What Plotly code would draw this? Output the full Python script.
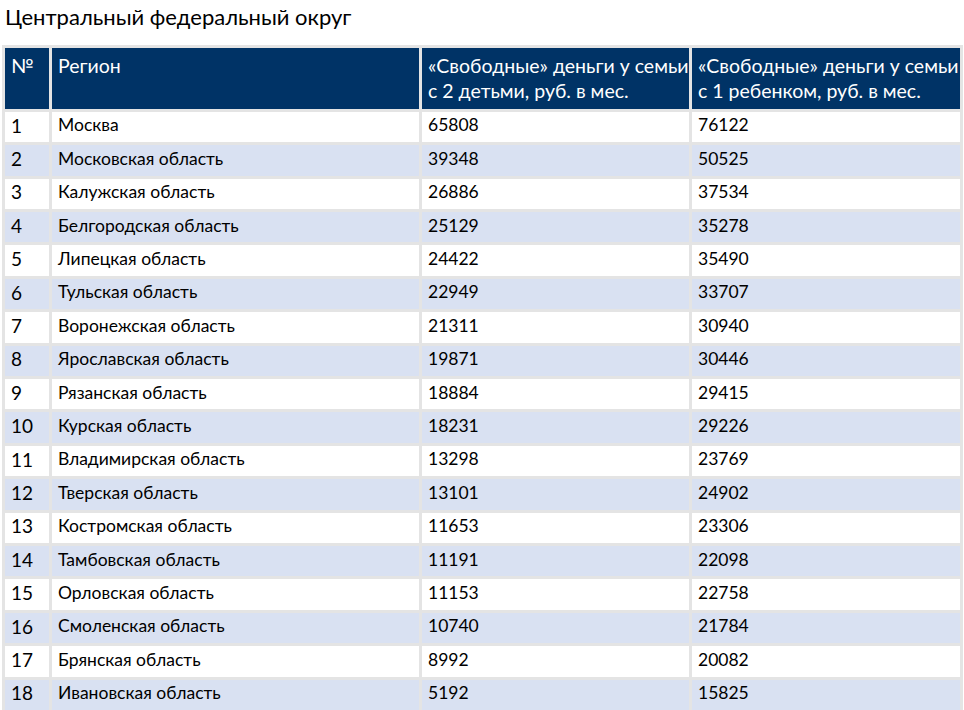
import plotly.graph_objects as go

title = "Центральный федеральный округ"
headers = ["№<br> ", "Регион<br> ",
           "«Свободные» деньги у семьи<br>с 2 детьми, руб. в мес.",
           "«Свободные» деньги у семьи<br>с 1 ребенком, руб. в мес."]
nums = list(range(1, 19))
regions = ["Москва", "Московская область", "Калужская область", "Белгородская область",
           "Липецкая область", "Тульская область", "Воронежская область", "Ярославская область",
           "Рязанская область", "Курская область", "Владимирская область", "Тверская область",
           "Костромская область", "Тамбовская область", "Орловская область", "Смоленская область",
           "Брянская область", "Ивановская область"]
money_2kids = [65808, 39348, 26886, 25129, 24422, 22949, 21311, 19871, 18884, 18231,
               13298, 13101, 11653, 11191, 11153, 10740, 8992, 5192]
money_1kid = [76122, 50525, 37534, 35278, 35490, 33707, 30940, 30446, 29415, 29226,
              23769, 24902, 23306, 22098, 22758, 21784, 20082, 15825]

W, H = 964, 710
row_fill = ["#ffffff" if i % 2 == 0 else "#d9e1f2" for i in range(len(nums))]
font_family = "Lato, 'Open Sans', sans-serif"

fig = go.Figure(go.Table(
    domain=dict(x=[0, 1], y=[0, 1 - 46 / H]),
    columnwidth=[47, 370, 270, 271],
    header=dict(
        values=headers,
        fill_color="#003366",
        line=dict(color="#e4e4e4", width=3),
        font=dict(color="white", size=19.5, family=font_family),
        align="left",
        height=58,
    ),
    cells=dict(
        values=[nums, regions, money_2kids, money_1kid],
        fill_color=[row_fill] * 4,
        line=dict(color="#e4e4e4", width=3),
        font=dict(color="black", size=[19, 17.5, 17.5, 17.5], family=font_family),
        align="left",
        height=33.4,
    ),
))

fig.add_annotation(
    text=title, xref="paper", yref="paper", x=0, y=1 - 17 / H,
    xanchor="left", yanchor="middle", showarrow=False,
    font=dict(size=22, color="black", family=font_family),
)

fig.update_layout(
    width=W, height=H,
    margin=dict(l=3, r=3, t=0, b=0),
    paper_bgcolor="white",
)

fig.write_html(
    "out.html",
    config={"displayModeBar": False},
    post_script="document.body.style.margin='0';document.body.style.overflow='hidden';",
)
